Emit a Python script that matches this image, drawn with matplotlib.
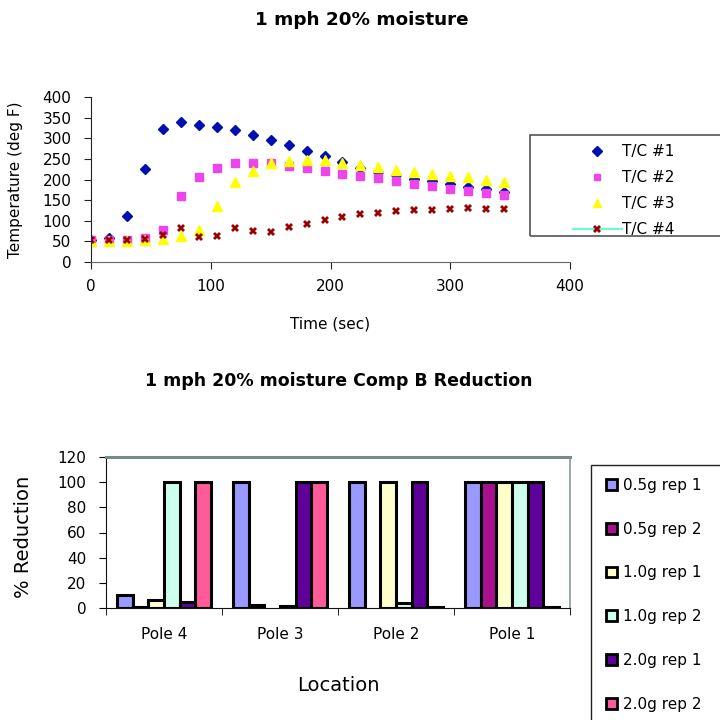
import numpy as np
import matplotlib
matplotlib.use("Agg")
import matplotlib.pyplot as plt
from matplotlib.lines import Line2D
from matplotlib.patches import Rectangle, Patch

plt.rcParams['font.family'] = ['DejaVu Sans']

# --- temperature data (top chart) ---
time_sec = [0, 15, 30, 45, 60, 75, 90, 105, 120, 135, 150, 165,
            180, 195, 210, 225, 240, 255, 270, 285, 300, 315, 330, 345]
tc1 = [53, 59, 112, 225, 323, 339, 333, 327, 321, 309, 295, 283,
       268, 256, 242, 229, 219, 210, 202, 196, 190, 182, 176, 170]
tc2 = [53, 54, 54, 57, 77, 159, 205, 228, 239, 240, 239, 232,
       228, 221, 214, 209, 203, 197, 190, 184, 178, 173, 167, 162]
tc3 = [51, 51, 51, 53, 56, 63, 77, 135, 194, 220, 239, 245,
       247, 247, 241, 236, 230, 224, 218, 213, 208, 205, 200, 194]
tc4 = [53, 54, 54, 56, 65, 83, 61, 63, 83, 75, 73, 84,
       92, 101, 109, 116, 120, 124, 125, 127, 129, 130, 129, 129]

# --- reduction data (bottom chart) ---
locations = ["Pole 4", "Pole 3", "Pole 2", "Pole 1"]
series_names = ["0.5g rep 1", "0.5g rep 2", "1.0g rep 1",
                "1.0g rep 2", "2.0g rep 1", "2.0g rep 2"]
r05_1 = [10, 100, 100, 100]
r05_2 = [1, 2, np.nan, 100]
r10_1 = [6, np.nan, 100, 100]
r10_2 = [100, 1.5, 4, 100]
r20_1 = [5, 100, 100, 100]
r20_2 = [100, 100, 1, 1]
bar_colors = ["#9999FF", "#A8108F", "#FFFFCC", "#CCFFEE", "#5E0099", "#FF5A9A"]

fig = plt.figure(figsize=(7.2, 7.2), dpi=100)

# ---------------- top scatter chart ----------------
ax1 = fig.add_axes([91/720, 1-262/720, 479/720, 165/720])
ax1.plot(time_sec, tc1, linestyle='none', marker='D', ms=5.5, color='#0010B0')
ax1.plot(time_sec, tc2, linestyle='none', marker='s', ms=5.5, color='#EE44EE')
ax1.plot(time_sec, tc3, linestyle='none', marker='^', ms=6.5, color='#FFFF00')
ax1.plot(time_sec, tc4, linestyle='none', marker='X', ms=6, color='#990000',
         markeredgewidth=0)
ax1.set_xlim(0, 400)
ax1.set_ylim(0, 400)
ax1.set_xticks(range(0, 401, 100))
ax1.set_yticks(range(0, 401, 50))
for s in ['top', 'right']:
    ax1.spines[s].set_visible(False)
ax1.spines['left'].set_color('#222222')
ax1.spines['bottom'].set_color('#666666')
ax1.tick_params(direction='out', length=5, labelsize=11, color='#222222')
ax1.tick_params(axis='x', pad=7)
ax1.tick_params(axis='y', pad=9)
ax1.set_xlabel("Time (sec)", fontsize=11)
ax1.set_ylabel("Temperature (deg F)", fontsize=11)
ax1.xaxis.set_label_coords(0.5, -0.33)
ax1.yaxis.set_label_coords(-0.142, 0.5)

fig.text(0.503, 1-20/720, "1 mph 20% moisture", ha='center', va='center',
         fontsize=13.2, fontweight='bold')

handles1 = [
    Line2D([], [], linestyle='none', marker='D', ms=5, color='#0010B0'),
    Line2D([], [], linestyle='none', marker='s', ms=5, color='#EE44EE'),
    Line2D([], [], linestyle='none', marker='^', ms=6, color='#FFFF00'),
    Line2D([], [], color='#66FFCC', lw=1.5, marker='X', ms=5.5,
           markerfacecolor='#990000', markeredgewidth=0),
]
fig.patches.append(Rectangle((530/720, 1-236/720), 0.3, 101/720,
                             transform=fig.transFigure, fill=False,
                             edgecolor='#555555', lw=1.2))
fig.legend(handles1, ["T/C #1", "T/C #2", "T/C #3", "T/C #4"],
           loc='upper left', bbox_to_anchor=(573/720, 1-144/720),
           frameon=False, borderpad=0, borderaxespad=0, fontsize=11,
           handlelength=3.2, handletextpad=0.0, labelspacing=0.73)

# ---------------- bottom bar chart ----------------
ax2 = fig.add_axes([106/720, 1-608/720, 464/720, 151/720])
values = [r05_1, r05_2, r10_1, r10_2, r20_1, r20_2]
x = np.arange(len(locations))
bw = 0.135
for i, (vals, col) in enumerate(zip(values, bar_colors)):
    ax2.bar(x + (i - 2.5) * bw, vals, width=bw, color=col,
            edgecolor='black', linewidth=2.2, zorder=3)
ax2.set_xlim(-0.5, len(locations) - 0.5)
ax2.set_ylim(0, 120)
ax2.set_yticks(range(0, 121, 20))
ax2.set_xticks(x)
ax2.set_xticklabels(locations)
ax2.set_xticks(np.arange(-0.5, len(locations)), minor=True)
ax2.tick_params(axis='x', which='major', length=0, pad=14, labelsize=11)
ax2.tick_params(axis='x', which='minor', length=5, direction='out')
ax2.tick_params(axis='y', direction='out', length=5, pad=9, labelsize=11)
ax2.spines['top'].set_color('#7A8A8A')
ax2.spines['top'].set_linewidth(2.2)
ax2.spines['right'].set_color('#8A9A9A')
ax2.spines['right'].set_linewidth(1.2)
ax2.spines['left'].set_color('#111111')
ax2.spines['bottom'].set_color('#111111')
ax2.set_xlabel("Location", fontsize=14)
ax2.set_ylabel("% Reduction", fontsize=14)
ax2.xaxis.set_label_coords(0.5, -0.45)
ax2.yaxis.set_label_coords(-0.157, 0.47)

fig.text(339/720, 1-381/720, "1 mph 20% moisture Comp B Reduction",
         ha='center', va='center', fontsize=12.5, fontweight='bold')

handles2 = [Patch(facecolor=c, edgecolor='black', linewidth=2) for c in bar_colors]
fig.patches.append(Rectangle((591/720, -0.05), 0.3, 1-465/720 + 0.05,
                             transform=fig.transFigure, fill=False,
                             edgecolor='#222222', lw=1.0))
fig.legend(handles2, series_names, loc='upper left',
           bbox_to_anchor=(606/720, 1-478/720),
           frameon=False, borderpad=0, borderaxespad=0,
           fontsize=11, handlelength=0.7, handleheight=0.7,
           handletextpad=0.4, labelspacing=1.88)

fig.savefig("out.png", dpi=100)
